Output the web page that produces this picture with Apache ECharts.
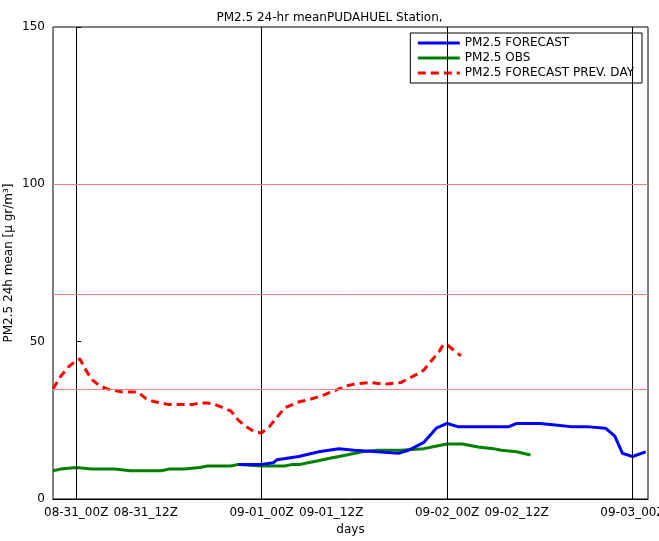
<!DOCTYPE html>
<html style="height: 100%">
<head><meta charset="utf-8"></head>
<body style="height: 100%; margin: 0; background: #fff">
<div id="container" style="height: 100%"></div>
<script src="https://fastly.jsdelivr.net/npm/echarts@6/dist/echarts.min.js"></script>
<script>
// hours since 08-31_00Z
const fcHours = [21, 24, 25.5, 26, 28.8, 31.4, 34, 36, 39, 41.7, 43, 45, 46.6, 48, 49.4, 52, 56, 57, 60, 62, 64, 66, 68.5, 69.7, 70.7, 72, 73.7];
const fcValues = [11, 11, 11.5, 12.5, 13.5, 15, 16, 15.5, 15, 14.5, 15.5, 18, 22.5, 24, 23, 23, 23, 24, 24, 23.5, 23, 23, 22.5, 20, 14.5, 13.5, 15];
const obsHours = [-3, -2, 0, 2, 5, 7, 9, 11, 12, 14, 16, 17, 20, 21, 24, 26, 27, 28, 29, 30, 31, 33, 35, 37, 39, 40, 42, 45, 47, 48, 50, 52, 54, 55, 57, 58.8];
const obsValues = [9, 9.5, 10, 9.5, 9.5, 9, 9, 9, 9.5, 9.5, 10, 10.5, 10.5, 11, 10.5, 10.5, 10.5, 11, 11, 11.5, 12, 13, 14, 15, 15.5, 15.5, 15.5, 16, 17, 17.5, 17.5, 16.5, 16, 15.5, 15, 14];
const prevHours = [-3, -2, -1, 0, 0.5, 1, 2, 3, 4, 5, 6, 8, 9, 10, 11, 12, 15, 16, 17, 18, 19, 20, 21, 22, 23, 24, 25, 26, 27, 28, 29, 30, 32, 33, 35, 36, 38, 40, 42, 44, 45, 46, 47, 47.5, 48, 49, 49.8];
const prevValues = [35, 39, 42, 44, 44.5, 42, 38, 36, 35, 34.5, 34, 34, 32, 31, 30.5, 30, 30, 30.5, 30.5, 30, 29, 28, 25, 23, 21.5, 21, 23, 26, 29, 30, 31, 31.5, 33, 34, 36, 36.5, 37, 36.5, 37, 39.5, 41, 44, 47, 49, 49, 47, 45.5];
const xLabels = {0: '08-31_00Z', 9: '08-31_12Z', 24: '09-01_00Z', 33: '09-01_12Z', 48: '09-02_00Z', 57: '09-02_12Z', 72: '09-03_00Z'};
const dayLines = [0, 24, 48, 72];
const limitLines = [35, 65, 100];

const zip = (h, v) => h.map((x, i) => [x, v[i]]);
const chart = echarts.init(document.getElementById('container'));
chart.setOption({
  animation: false,
  textStyle: { fontFamily: 'DejaVu Sans' },
  title: { text: 'PM2.5 24-hr meanPUDAHUEL Station,', left: 'center', top: 7,
    textStyle: { fontSize: 12, fontWeight: 'normal', color: '#000' } },
  grid: { left: 53, right: 11, top: 27, bottom: 42, containLabel: false, outerBoundsMode: 'none',
    show: true, borderColor: '#000', borderWidth: 1 },
  legend: {
    right: 17, top: 33, orient: 'vertical', itemGap: 3, itemWidth: 42, itemHeight: 12,
    backgroundColor: '#fff', borderColor: '#000', borderWidth: 1, borderRadius: 0, padding: [4, 8, 4, 6],
    textStyle: { fontSize: 12, color: '#000' },
    itemStyle: { opacity: 0 },
    lineStyle: { width: 3 },
    data: ['PM2.5 FORECAST', 'PM2.5 OBS', 'PM2.5 FORECAST PREV. DAY']
  },
  xAxis: {
    type: 'value', min: -3, max: 74, interval: 1,
    name: 'days', nameLocation: 'middle', nameGap: 22, nameTextStyle: { fontSize: 12, color: '#000' },
    axisLine: { lineStyle: { color: '#000' } }, axisTick: { show: false },
    splitLine: { show: false },
    axisLabel: { color: '#000', fontSize: 12, margin: 8, hideOverlap: false,
      formatter: v => xLabels[v] || '' }
  },
  yAxis: {
    type: 'value', min: 0, max: 150, interval: 50,
    name: 'PM2.5 24h mean [µ gr/m³]', nameLocation: 'middle', nameGap: 38, nameMoveOverlap: false,
    nameTextStyle: { fontSize: 12, color: '#000' },
    axisLine: { show: true, lineStyle: { color: '#000' } },
    axisTick: { inside: true, length: 5, lineStyle: { color: '#000' } },
    splitLine: { show: false },
    axisLabel: { color: '#000', fontSize: 12 }
  },
  series: [
    { name: 'PM2.5 FORECAST', type: 'line', data: zip(fcHours, fcValues), symbol: 'none',
      color: '#0000ff', lineStyle: { width: 3 }, z: 3,
      markLine: { silent: true, symbol: 'none', label: { show: false },
        data: dayLines.map(d => ({ xAxis: d, lineStyle: { color: '#000', width: 1, type: 'solid' } }))
          .concat(limitLines.map(l => ({ yAxis: l, lineStyle: { color: '#f08080', width: 1, type: 'solid' } }))) } },
    { name: 'PM2.5 OBS', type: 'line', data: zip(obsHours, obsValues), symbol: 'none',
      color: '#008000', lineStyle: { width: 3 }, z: 2 },
    { name: 'PM2.5 FORECAST PREV. DAY', type: 'line', data: zip(prevHours, prevValues), symbol: 'none',
      color: '#ff0000', lineStyle: { width: 3, type: [8, 5] }, z: 2 }
  ]
});
</script>
</body>
</html>
